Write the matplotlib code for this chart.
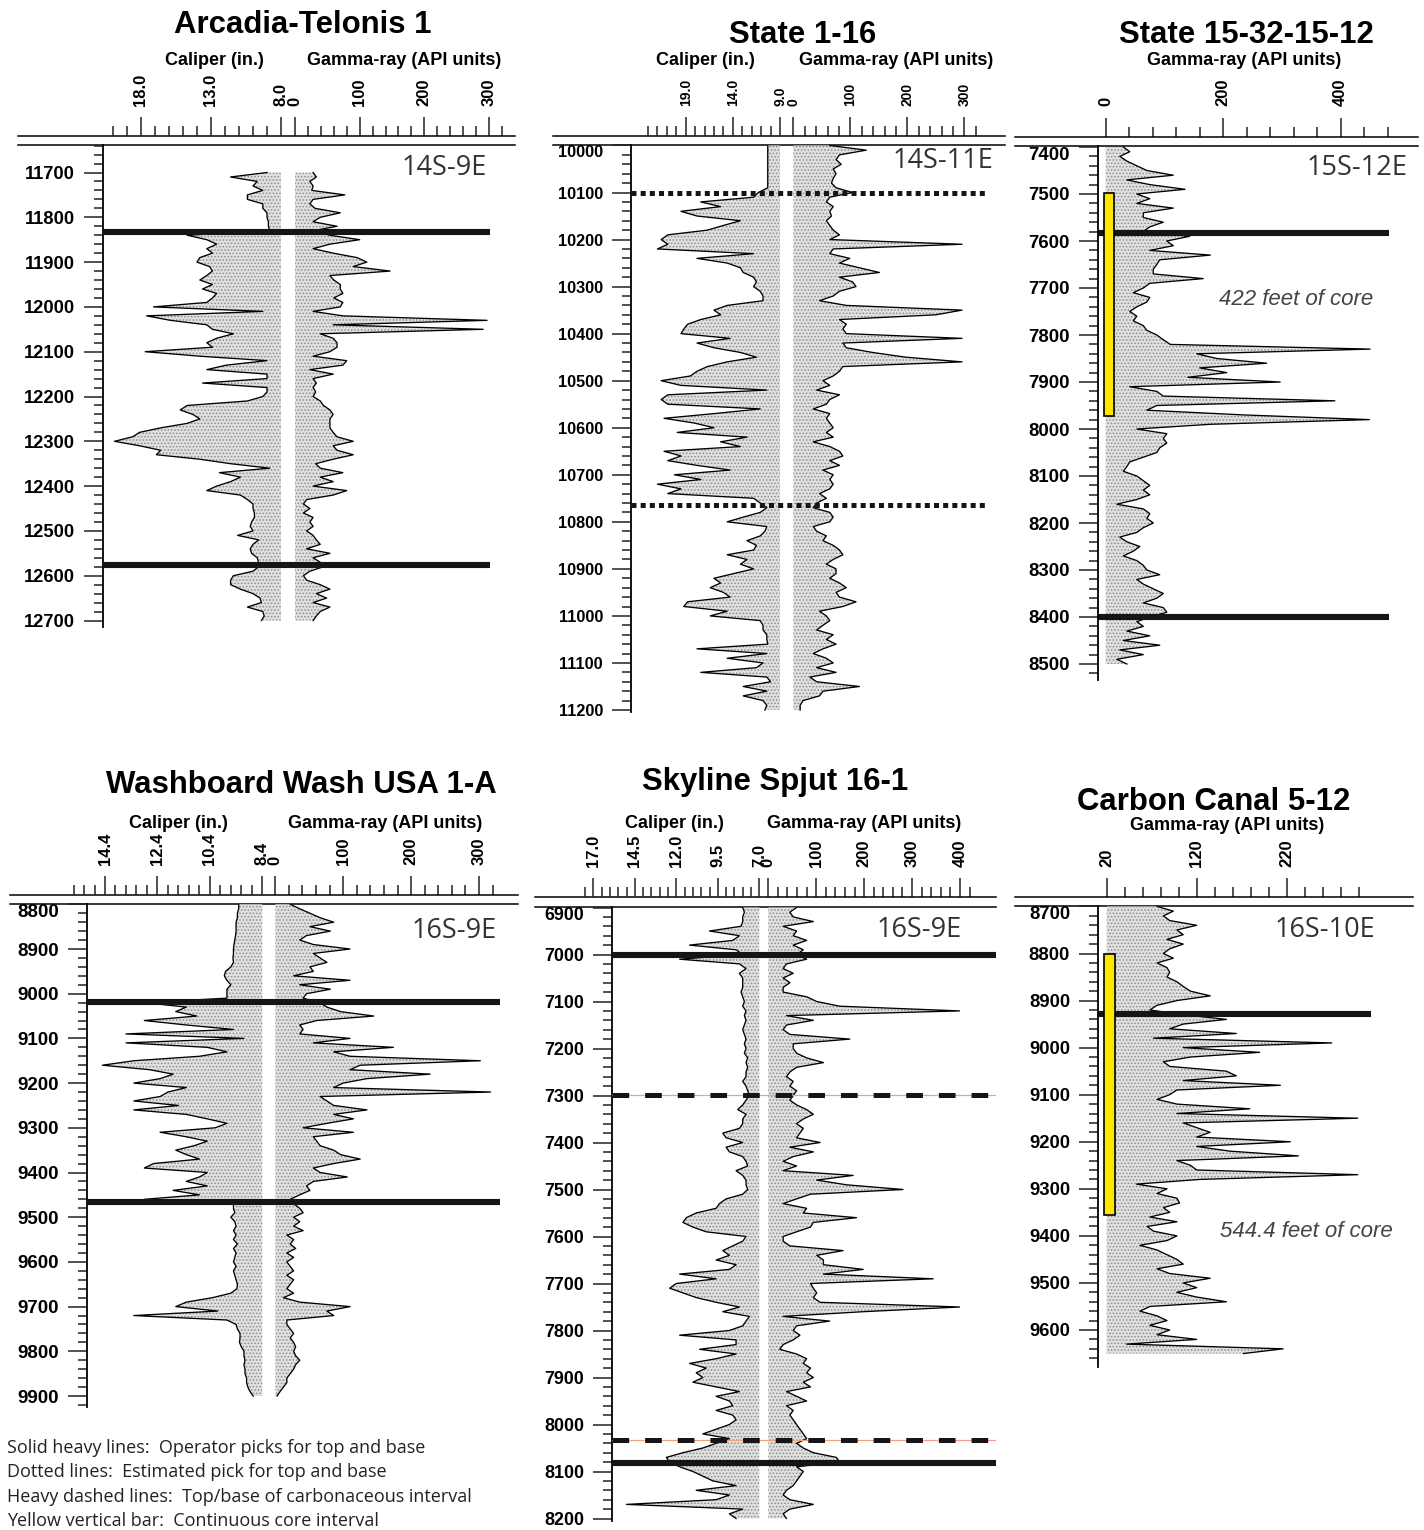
import numpy as np
import matplotlib
matplotlib.use("Agg")
import matplotlib.pyplot as plt
import matplotlib.transforms as mtransforms
from matplotlib.patches import Rectangle

plt.rcParams['font.family'] = ['Liberation Sans', 'DejaVu Sans']
plt.rcParams['hatch.linewidth'] = 0.7
plt.rcParams['lines.scale_dashes'] = False

# Arcadia-Telonis 1, 11700-12700 ft
at_top, at_base = 11700, 12700
at_caliper = [9.0, 11.6, 9.7, 10.0, 9.3, 10.4, 10.4, 9.3, 9.3, 9.0,
              9.0, 8.9, 8.9, 8.8, 14.7, 13.3, 12.6, 13.3, 12.9, 13.8,
              14.0, 13.1, 12.9, 13.3, 13.8, 12.9, 13.6, 12.6, 12.9, 13.3,
              17.1, 9.3, 17.6, 15.9, 13.3, 12.9, 11.4, 12.6, 13.3, 12.9,
              17.7, 13.8, 9.0, 11.9, 13.3, 9.0, 9.0, 13.6, 9.0, 9.0,
              9.3, 10.4, 14.7, 15.2, 14.3, 13.8, 14.7, 16.6, 18.1, 18.6,
              19.9, 18.1, 16.6, 16.9, 13.8, 11.6, 8.8, 12.4, 10.9, 11.6,
              12.6, 13.3, 10.9, 10.4, 10.0, 10.0, 9.9, 9.9, 10.1, 10.2,
              10.0, 11.1, 9.6, 10.0, 10.2, 10.1, 9.7, 9.6, 9.6, 10.0,
              11.4, 11.6, 11.6, 10.9, 10.0, 9.5, 9.4, 10.4, 9.3, 9.2,
              9.4]
at_gamma = [28, 33, 23, 28, 26, 77, 28, 23, 31, 70,
            39, 28, 65, 28, 54, 100, 54, 28, 59, 96,
            111, 90, 147, 54, 60, 70, 70, 74, 60, 74,
            70, 28, 74, 297, 59, 291, 39, 59, 65, 65,
            54, 28, 80, 74, 23, 59, 28, 33, 28, 32,
            28, 39, 44, 54, 59, 54, 54, 54, 59, 65,
            90, 59, 65, 90, 59, 32, 39, 74, 39, 59,
            28, 80, 59, 18, 13, 23, 13, 28, 23, 28,
            18, 28, 33, 39, 18, 54, 28, 39, 44, 23,
            13, 18, 39, 54, 33, 49, 28, 54, 39, 33,
            28]
at_picks = [11833, 12577]

# State 1-16, 10000-11200 ft
st_top, st_base = 10000, 11200
st_caliper = [10.3, 10.3, 10.3, 10.3, 10.3, 10.3, 10.3, 10.3, 10.3, 10.3,
              11.3, 11.8, 17.4, 15.3, 19.5, 17.8, 13.2, 15.0, 16.7, 20.9,
              21.6, 20.9, 22.0, 11.8, 17.8, 14.6, 13.2, 12.9, 11.8, 11.5,
              11.8, 11.1, 10.8, 10.8, 14.6, 16.0, 15.3, 17.4, 18.8, 19.2,
              19.5, 14.3, 17.8, 16.0, 13.2, 11.5, 14.6, 16.7, 17.8, 18.5,
              21.6, 19.5, 10.4, 20.9, 21.6, 20.9, 11.1, 16.0, 21.3, 18.1,
              16.0, 19.9, 12.5, 15.3, 13.2, 21.3, 19.5, 20.9, 17.8, 14.3,
              20.2, 17.4, 22.0, 19.5, 20.9, 11.8, 11.1, 10.4, 11.1, 12.9,
              14.6, 10.4, 10.6, 11.1, 12.5, 11.5, 11.8, 14.6, 12.5, 13.2,
              11.8, 13.9, 16.0, 15.3, 16.4, 15.0, 14.3, 18.8, 19.2, 14.6,
              16.4, 11.1, 10.8, 10.8, 10.4, 10.4, 10.3, 17.8, 10.4, 14.6,
              10.8, 11.5, 17.4, 10.4, 10.0, 12.9, 10.4, 12.9, 10.8, 10.4,
              10.6]
st_gamma = [64, 128, 81, 75, 84, 70, 75, 70, 67, 75,
            104, 64, 58, 70, 64, 67, 58, 64, 70, 81,
            64, 296, 70, 64, 99, 81, 116, 151, 81, 104,
            110, 81, 70, 46, 93, 296, 250, 81, 93, 87,
            93, 296, 87, 93, 139, 197, 296, 87, 81, 70,
            52, 64, 41, 81, 64, 58, 35, 64, 58, 64,
            70, 58, 70, 35, 64, 81, 87, 64, 81, 52,
            70, 64, 70, 64, 46, 58, 41, 35, 64, 70,
            64, 35, 41, 58, 52, 70, 81, 87, 70, 58,
            75, 75, 64, 81, 93, 75, 81, 110, 87, 46,
            58, 64, 52, 41, 70, 58, 75, 52, 35, 58,
            70, 41, 75, 29, 41, 116, 52, 46, 17, 12,
            12]
st_estimated = [10100, 10764]

# State 15-32-15-12, 7400-8500 ft
sx_top, sx_base = 7400, 8500
sx_gamma = [30, 41, 24, 36, 53, 70, 115, 36, 75, 135,
            53, 75, 53, 115, 64, 64, 98, 75, 64, 143,
            104, 115, 75, 178, 92, 87, 81, 81, 166, 75,
            64, 47, 75, 70, 53, 41, 53, 47, 64, 70,
            87, 98, 110, 450, 155, 189, 274, 160, 206, 140,
            297, 41, 87, 98, 390, 87, 70, 234, 449, 178,
            53, 104, 98, 104, 92, 87, 64, 41, 36, 30,
            53, 64, 75, 64, 75, 53, 19, 64, 75, 70,
            81, 64, 53, 24, 36, 58, 47, 30, 53, 64,
            70, 92, 53, 64, 81, 98, 87, 64, 98, 104,
            75, 53, 64, 36, 75, 30, 92, 24, 64, 19,
            36]
sx_picks = [7583, 8399]
sx_core = (7497, 7972)

# Washboard Wash USA 1-A, 8800-9900 ft
ww_top, ww_base = 8800, 9900
ww_caliper = [9.3, 9.3, 9.35, 9.35, 9.4, 9.4, 9.4, 9.42, 9.45, 9.48,
              9.5, 9.5, 9.52, 9.5, 9.6, 9.8, 9.85, 9.75, 9.6, 9.75,
              9.75, 9.75, 12.9, 11.3, 11.7, 10.9, 12.9, 11.3, 9.5, 13.6,
              9.1, 13.6, 10.5, 9.75, 10.8, 13.3, 14.5, 12.7, 11.8, 12.3,
              13.3, 11.3, 12.0, 12.3, 13.3, 11.6, 13.3, 11.3, 10.5, 9.75,
              10.2, 12.3, 11.3, 10.5, 11.0, 11.7, 11.3, 10.8, 12.55, 12.9,
              10.5, 10.8, 11.3, 10.5, 11.8, 10.8, 12.9, 9.5, 9.5, 9.45,
              9.6, 9.45, 9.4, 9.5, 9.4, 9.5, 9.35, 9.5, 9.4, 9.45,
              9.5, 9.4, 9.5, 9.45, 9.4, 9.35, 9.37, 9.6, 10.3, 11.3,
              11.7, 10.1, 13.3, 9.75, 9.4, 9.35, 9.25, 9.25, 9.27, 9.2,
              9.1, 9.1, 9.06, 9.1, 9.06, 9.06, 9.0, 9.0, 8.95, 8.87,
              8.75]
ww_gamma = [22, 36, 51, 66, 86, 51, 81, 46, 36, 56,
            110, 56, 66, 76, 51, 56, 27, 110, 36, 81,
            46, 41, 66, 76, 96, 145, 61, 36, 41, 36,
            110, 56, 174, 86, 110, 302, 125, 110, 228, 135,
            100, 86, 317, 66, 76, 86, 135, 86, 115, 76,
            41, 115, 56, 61, 66, 86, 96, 125, 86, 56,
            66, 106, 56, 46, 51, 36, 22, 27, 36, 41,
            27, 36, 27, 41, 17, 27, 22, 30, 17, 27,
            17, 22, 27, 17, 27, 22, 17, 27, 12, 36,
            110, 76, 86, 17, 17, 22, 27, 22, 27, 30,
            27, 30, 36, 30, 27, 22, 17, 17, 12, 7,
            2.5]
ww_picks = [9019, 9467]

# Skyline Spjut 16-1, 6900-8200 ft
sk_top, sk_base = 6900, 8200
sk_caliper = [8.0, 7.9, 8.0, 8.0, 8.1, 10.0, 8.2, 8.6, 11.2, 8.4,
              8.0, 11.8, 8.2, 7.8, 8.2, 8.0, 8.0, 8.0, 8.1, 8.0,
              7.9, 8.0, 7.8, 7.9, 7.8, 7.9, 8.0, 7.9, 7.8, 7.9,
              7.8, 7.9, 7.7, 7.8, 7.7, 7.8, 7.8, 8.0, 7.8, 7.7,
              7.6, 7.8, 8.0, 8.3, 7.8, 8.0, 8.0, 8.2, 9.2, 9.0,
              8.0, 9.0, 8.8, 8.0, 7.8, 7.7, 8.4, 8.0, 7.8, 7.8,
              7.7, 8.0, 9.0, 9.4, 9.6, 10.8, 11.4, 11.6, 11.0, 10.2,
              7.8, 8.0, 8.6, 9.2, 8.8, 9.6, 8.4, 8.8, 11.8, 9.6,
              12.0, 12.4, 11.6, 10.8, 9.6, 8.2, 9.2, 7.6, 7.8, 8.0,
              8.8, 11.8, 8.4, 8.4, 10.6, 8.4, 9.6, 11.2, 10.2, 10.8,
              10.4, 11.0, 9.6, 8.2, 9.6, 8.8, 8.6, 9.6, 8.6, 8.4,
              8.8, 9.6, 10.4, 8.8, 9.6, 10.4, 11.6, 12.6, 12.4, 11.8,
              11.0, 10.4, 9.8, 8.4, 10.8, 8.8, 9.6, 15.0, 8.0, 8.8,
              8.4]
sk_gamma = [59, 45, 52, 94, 31, 59, 52, 80, 52, 73,
            59, 80, 38, 31, 52, 31, 45, 31, 31, 80,
            101, 149, 399, 38, 94, 38, 31, 45, 170, 52,
            52, 59, 80, 115, 59, 45, 38, 52, 45, 59,
            52, 45, 59, 80, 94, 73, 59, 73, 66, 59,
            108, 45, 94, 52, 31, 59, 31, 177, 101, 163,
            281, 88, 59, 31, 80, 73, 184, 94, 88, 59,
            31, 31, 45, 156, 101, 115, 115, 198, 115, 344,
            88, 94, 101, 94, 108, 399, 198, 31, 128, 59,
            52, 66, 52, 31, 24, 59, 80, 73, 88, 80,
            94, 73, 88, 38, 59, 80, 38, 52, 45, 52,
            59, 66, 73, 80, 59, 73, 94, 142, 149, 59,
            73, 66, 59, 52, 38, 31, 45, 94, 45, 31,
            38]
sk_picks = [7000, 8082]
sk_carbonaceous = [7299, 8034]

# Carbon Canal 5-12, 8700-9650 ft
cc_top, cc_base = 8700, 9650
cc_gamma = [76, 94, 83, 90, 120, 98, 105, 87, 105, 90,
            83, 94, 76, 87, 90, 87, 98, 105, 113, 135,
            98, 76, 68, 105, 153, 105, 90, 164, 72, 270,
            105, 190, 113, 83, 90, 153, 164, 105, 213, 98,
            90, 76, 98, 179, 98, 299, 105, 120, 135, 120,
            224, 120, 157, 233, 98, 113, 120, 299, 124, 53,
            87, 76, 98, 101, 83, 90, 68, 98, 65, 72,
            98, 87, 57, 76, 87, 98, 105, 76, 90, 135,
            105, 120, 98, 120, 153, 68, 57, 76, 87, 68,
            90, 76, 120, 42, 216, 172]
cc_picks = [8929]
cc_core = (8800, 9356)

legend_lines = ["Solid heavy lines:  Operator picks for top and base",
                "Dotted lines:  Estimated pick for top and base",
                "Heavy dashed lines:  Top/base of carbonaceous interval",
                "Yellow vertical bar:  Continuous core interval"]

# ---------------- FIGURE ----------------
W, H = 1424, 1530
PX = 0.72  # points per pixel at dpi 100
FILL = dict(facecolor='#e0e0e0', edgecolor='#8c8c8c', hatch='.....', linewidth=0)
CURVE = dict(color='black', lw=0.95)
PICK = dict(color='#151515', lw=4.4, solid_capstyle='butt')

fig = plt.figure(figsize=(W / 100, H / 100), dpi=100)


def box(x0, y0, x1, y1):
    return [x0 / W, 1 - y1 / H, (x1 - x0) / W, (y1 - y0) / H]


def span(p0, p1, ref):
    (va, pa), (vb, pb) = ref
    k = (vb - va) / (pb - pa)
    return va + (p0 - pa) * k, va + (p1 - pa) * k


def ftext(x, y, s, **kw):
    fig.text(x / W, 1 - y / H, s, **kw)


def depths(top, base):
    return np.arange(top, base + 1, 10)


def top_scale(ax, ref, x0, x1, major, labels, minor, size):
    ax.set_xlim(*span(x0, x1, ref))
    ax.xaxis.set_ticks_position('top')
    ax.xaxis.set_label_position('top')
    ax.set_xticks(major, labels=labels, fontsize=size, fontweight='bold')
    ax.set_xticks(minor, minor=True)
    ax.tick_params(axis='x', which='both', direction='out', top=True, bottom=False,
                   labeltop=True, labelbottom=False, labelrotation=90,
                   width=1.1, pad=11 * PX, color='#222222')
    ax.tick_params(axis='x', which='major', length=19 * PX)
    ax.tick_params(axis='x', which='minor', length=10 * PX)


def log_panel(frame, body, dref, gref, gr_scale, cal=None, scale_size=12,
              depth_size=13, first_top=True):
    fx0, fy0, fx1, fy1 = frame
    bx0, by0, bx1, by1 = body
    axf = fig.add_axes(box(fx0, fy0, fx1, fy1))
    axfc = axf.twiny() if cal is not None else None
    axf.set_ylim(0, 1)
    axf.set_yticks([])
    axf.patch.set_alpha(0)
    for s in ('left', 'right'):
        axf.spines[s].set_visible(False)
    for s in ('top', 'bottom'):
        axf.spines[s].set_linewidth(1.1)
    top_scale(axf, gref, fx0, fx1, *gr_scale, scale_size)
    if axfc is not None:
        for s in axfc.spines.values():
            s.set_visible(False)
        top_scale(axfc, cal[0], fx0, fx1, *cal[1:], scale_size)

    axes = []
    if cal is not None:
        axc = fig.add_axes(box(bx0, by0, bx1, by1))
        axc.set_xlim(*span(bx0, bx1, cal[0]))
        axes.append(axc)
    axg = fig.add_axes(box(bx0, by0, bx1, by1))
    axg.set_xlim(*span(bx0, bx1, gref))
    axes.append(axg)
    for ax in axes:
        ax.set_ylim(*span(by1, by0, dref))
        ax.patch.set_alpha(0)
        for s in ax.spines.values():
            s.set_visible(False)
        ax.set_xticks([])
        ax.set_yticks([])
    base = axes[0]
    base.spines['left'].set_visible(True)
    base.spines['left'].set_linewidth(1.3)
    lo, hi = sorted(base.get_ylim())
    major = np.arange(np.ceil(lo / 100) * 100, hi, 100)
    minor = np.arange(np.ceil(lo / 20) * 20, hi, 20)
    base.set_yticks(major, labels=[f"{int(m)}" for m in major],
                    fontsize=depth_size, fontweight='bold')
    base.set_yticks(minor, minor=True)
    base.tick_params(axis='y', which='both', direction='out', width=1.1,
                     pad=9 * PX, color='#222222')
    base.tick_params(axis='y', which='major', length=19 * PX)
    base.tick_params(axis='y', which='minor', length=9 * PX)
    if first_top:
        base.yaxis.get_major_ticks()[0].label1.set_verticalalignment('top')
    frac = lambda x: (x - bx0) / (bx1 - bx0)
    return (axes[0] if cal is not None else None), axg, frac


def draw_cal(ax, d, c, base):
    ax.fill_betweenx(d, c, base, **FILL)
    ax.plot(c, d, **CURVE)


def draw_gr(ax, d, g, base=0):
    ax.fill_betweenx(d, base, g, **FILL)
    ax.plot(g, d, **CURVE)


def core_bar(ax, frac, x0, x1, interval):
    tr = mtransforms.blended_transform_factory(ax.transAxes, ax.transData)
    ax.add_patch(Rectangle((frac(x0), interval[0]), frac(x1) - frac(x0),
                           interval[1] - interval[0], transform=tr,
                           facecolor='#ffe600', edgecolor='black', lw=1.2, zorder=5))


gr_major = [0, 100, 200, 300]
gr_labels = ['0', '100', '200', '300']

# ---- Arcadia-Telonis 1
axc, axg, fr = log_panel((18, 136, 515, 145), (103, 145, 515, 627),
                         ((11700, 172.5), (12700, 620.5)), ((0, 295), (300, 489)),
                         (gr_major, gr_labels, np.arange(0, 321, 20)),
                         cal=(((18.0, 141), (8.0, 281)), [18, 13, 8], ['18.0', '13.0', '8.0'],
                              np.arange(8, 21, 1)),
                         scale_size=12, depth_size=13.2, first_top=False)
draw_cal(axc, depths(at_top, at_base), at_caliper, 8.0)
draw_gr(axg, depths(at_top, at_base), at_gamma)
for d in at_picks:
    axg.axhline(d, xmin=0, xmax=fr(490), **PICK)

# ---- State 1-16
axc, axg, fr = log_panel((553, 136, 1005, 145), (631, 145, 1005, 712),
                         ((10100, 192.5), (11200, 710)), ((0, 793.3), (300, 964.3)),
                         (gr_major, gr_labels, np.arange(0, 321, 20)),
                         cal=(((19.0, 685.7), (9.0, 780)), [19, 14, 9], ['19.0', '14.0', '9.0'],
                              np.arange(9, 24, 1)),
                         scale_size=10, depth_size=11.7)
draw_cal(axc, depths(st_top, st_base), st_caliper, 9.0)
draw_gr(axg, depths(st_top, st_base), st_gamma)
for d in st_estimated:
    axg.axhline(d, xmin=0, xmax=fr(985), color='#151515', lw=3.6,
                dashes=(3.6, 3.0), dash_capstyle='butt')

# ---- State 15-32-15-12
_, axg, fr = log_panel((1015, 136.5, 1418, 146), (1098, 146, 1418, 680),
                       ((7500, 194), (8500, 664)), ((0, 1105.7), (400, 1340.7)),
                       ([0, 200, 400], ['0', '200', '400'], np.arange(0, 481, 40)),
                       scale_size=12, depth_size=13.4)
draw_gr(axg, depths(sx_top, sx_base), sx_gamma)
for d in sx_picks:
    axg.axhline(d, xmin=0, xmax=fr(1389), **PICK)
core_bar(axg, fr, 1104, 1114, sx_core)

# ---- Washboard Wash USA 1-A
axc, axg, fr = log_panel((10, 895, 518, 904), (87, 904, 518, 1407),
                         ((8900, 949), (9900, 1396)), ((0, 275.3), (300, 479)),
                         (gr_major, gr_labels, np.arange(0, 321, 20)),
                         cal=(((14.4, 105), (8.4, 262.3)), [14.4, 12.4, 10.4, 8.4],
                              ['14.4', '12.4', '10.4', '8.4'], np.arange(8.4, 15.7, 0.4)),
                         scale_size=12, depth_size=13.5)
draw_cal(axc, depths(ww_top, ww_base), ww_caliper, 8.4)
draw_gr(axg, depths(ww_top, ww_base), ww_gamma)
for d in ww_picks:
    axg.axhline(d, xmin=0, xmax=fr(500), **PICK)

# ---- Skyline Spjut 16-1
axc, axg, fr = log_panel((535, 897, 996, 906.5), (612, 906.5, 996, 1521),
                         ((7000, 954.5), (8200, 1518.5)), ((0, 768.3), (400, 960)),
                         ([0, 100, 200, 300, 400], ['0', '100', '200', '300', '400'],
                          np.arange(0, 421, 20)),
                         cal=(((17.0, 593.3), (7.0, 759.3)), [17, 14.5, 12, 9.5, 7],
                              ['17.0', '14.5', '12.0', '9.5', '7.0'], np.arange(7, 17.6, 0.5)),
                         scale_size=12, depth_size=12.9)
draw_cal(axc, depths(sk_top, sk_base), sk_caliper, 7.0)
draw_gr(axg, depths(sk_top, sk_base), sk_gamma)
for d in sk_picks:
    axg.axhline(d, xmin=0, xmax=1, **PICK)
for d in sk_carbonaceous:
    axg.axhline(d, xmin=0, xmax=1, color='#f2a08a', lw=0.9)
    axg.axhline(d, xmin=0, xmax=1, color='#151515', lw=3.6,
                dashes=(12, 11.5), dash_capstyle='butt')

# ---- Carbon Canal 5-12
_, axg, fr = log_panel((1015, 897, 1413, 906), (1098, 906, 1413, 1367),
                       ((8800, 953.5), (9600, 1330)), ((20, 1106.7), (220, 1286.7)),
                       ([20, 120, 220], ['20', '120', '220'], np.arange(20, 301, 20)),
                       scale_size=12, depth_size=13.3)
draw_gr(axg, depths(cc_top, cc_base), cc_gamma, base=20)
for d in cc_picks:
    axg.axhline(d, xmin=0, xmax=fr(1371), **PICK)
core_bar(axg, fr, 1104, 1115, cc_core)

# ---------------- TEXT ----------------
TITLE = dict(fontsize=22.4, fontweight='bold', ha='center', va='baseline')
HEAD = dict(fontsize=13, fontweight='bold', ha='center', va='baseline')
TWP = dict(fontsize=19.5, family=['Open Sans', 'DejaVu Sans'], color='#333333',
           ha='right', va='baseline')
CORE = dict(fontsize=16, style='italic', color='#444444', ha='center', va='baseline')

ftext(303, 33.3, "Arcadia-Telonis 1", **TITLE)
ftext(803, 43.3, "State 1-16", **TITLE)
ftext(1246, 43.3, "State 15-32-15-12", **TITLE)
ftext(301, 793.3, "Washboard Wash USA 1-A", **TITLE)
ftext(775.5, 790, "Skyline Spjut 16-1", **TITLE)
ftext(1214, 810, "Carbon Canal 5-12", **TITLE)

ftext(214, 65, "Caliper (in.)", **HEAD)
ftext(404, 65, "Gamma-ray (API units)", **HEAD)
ftext(705, 65, "Caliper (in.)", **HEAD)
ftext(896, 65, "Gamma-ray (API units)", **HEAD)
ftext(1244, 65, "Gamma-ray (API units)", **HEAD)
ftext(178.5, 828.3, "Caliper (in.)", **HEAD)
ftext(385.5, 828.3, "Gamma-ray (API units)", **HEAD)
ftext(674, 828.3, "Caliper (in.)", **HEAD)
ftext(864.5, 828.3, "Gamma-ray (API units)", **HEAD)
ftext(1227, 830, "Gamma-ray (API units)", **HEAD)

ftext(487, 175, "14S-9E", **TWP)
ftext(993, 168.3, "14S-11E", **TWP)
ftext(1408, 175, "15S-12E", **TWP)
ftext(497, 938.3, "16S-9E", **TWP)
ftext(962, 936.7, "16S-9E", **TWP)
ftext(1375, 936.7, "16S-10E", **TWP)

ftext(1296, 305, "422 feet of core", **CORE)
ftext(1306, 1236.7, "544.4 feet of core", **CORE)

for i, line in enumerate(legend_lines):
    ftext(7, 1453 + 24.3 * i, line, fontsize=13, family=['Open Sans', 'DejaVu Sans'],
          color='#222222', ha='left', va='baseline')

fig.savefig("out.png", dpi=100, facecolor='white')
